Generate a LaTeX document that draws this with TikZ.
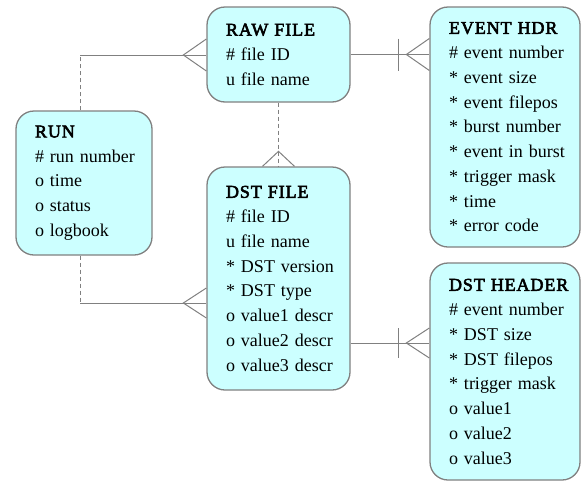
\documentclass[tikz,border=0pt]{standalone}
\usepackage{fontspec}
\setmainfont{Liberation Serif}
\newfontfamily\erfont{Liberation Serif}
\newfontfamily\erbold{Liberation Serif}[FakeBold=3, LetterSpace=5]
\newcommand\ertitle[1]{{\erbold #1}}
\usetikzlibrary{calc}
\definecolor{boxfill}{HTML}{CCFFFF}
\definecolor{edgegray}{HTML}{808080}
\begin{document}
\begin{tikzpicture}[x=1pt,y=-1pt,
  entity/.style={draw=edgegray, line width=1.3pt, fill=boxfill, rounded corners=18pt,
    align=left, anchor=center, inner xsep=19pt, inner ysep=0pt,
    font=\erfont\fontsize{18}{24.75}\selectfont,
    execute at begin node={\hyphenpenalty=10000 \exhyphenpenalty=10000 \hbadness=10000 \hfuzz=100pt}},
  conn/.style={draw=edgegray, line width=1pt},
  opt/.style={draw=edgegray, line width=1pt, dash pattern=on 4pt off 3pt}]
\useasboundingbox (0,0) rectangle (581,485);

\node[entity, text width=105pt, minimum height=95pt] (raw) at (278.5,54.5)
  {\ertitle{RAW~FILE}\\\#~file~ID\\u~file~name};
\node[entity, text width=112pt, minimum height=240pt] (event) at (505,127)
  {\ertitle{EVENT~HDR}\\\#~event~number\\{}*~event~size\\{}*~event~filepos\\{}*~burst~number\\{}*~event~in~burst\\{}*~trigger~mask\\{}*~time\\{}*~error~code};
\node[entity, text width=98pt, minimum height=144pt] (run) at (84,183)
  {\ertitle{RUN}\\\#~run~number\\o~time\\o~status\\o~logbook};
\node[entity, text width=105pt, minimum height=223pt] (dstfile) at (278.5,278.5)
  {\ertitle{DST~FILE}\\\#~file~ID\\u~file~name\\{}*~DST~version\\{}*~DST~type\\o~value1~descr\\o~value2~descr\\o~value3~descr};
\node[entity, text width=112pt, minimum height=217pt] (dsthdr) at (505,371.5)
  {\ertitle{DST~HEADER}\\\#~event~number\\{}*~DST~size\\{}*~DST~filepos\\{}*~trigger~mask\\o~value1\\o~value2\\o~value3};

% RUN -- RAW FILE
\coordinate (r1) at (80,55);
\coordinate (a1) at (raw.west |- r1);
\draw[opt] (run.north -| r1) -- (r1);
\draw[conn] (r1) -- (a1);
\draw[conn] ($(a1)+(0,-16)$) -- ($(a1)+(-23,0)$) -- ($(a1)+(0,16)$);

% RAW FILE -- DST FILE
\draw[opt] (raw.south) -- (dstfile.north);
\draw[conn] ($(dstfile.north)+(-16,0)$) -- ($(dstfile.north)+(0,-15)$) -- ($(dstfile.north)+(16,0)$);

% RUN -- DST FILE
\coordinate (r2) at (80,303);
\coordinate (a2) at (dstfile.west |- r2);
\draw[opt] (run.south -| r2) -- (r2);
\draw[conn] (r2) -- (a2);
\draw[conn] ($(a2)+(0,-15)$) -- ($(a2)+(-23,0)$) -- ($(a2)+(0,15)$);

% RAW FILE -- EVENT HDR
\coordinate (a3) at (event.west |- raw.east);
\draw[conn] (raw.east) -- (a3);
\draw[conn] ($(a3)+(0,-16)$) -- ($(a3)+(-23,0)$) -- ($(a3)+(0,16)$);
\draw[conn] ($(a3)+(-31,-16)$) -- ($(a3)+(-31,16)$);

% DST FILE -- DST HEADER
\coordinate (h5) at (0,343);
\coordinate (a4) at (dsthdr.west |- h5);
\draw[conn] (dstfile.east |- h5) -- (a4);
\draw[conn] ($(a4)+(0,-15)$) -- ($(a4)+(-23,0)$) -- ($(a4)+(0,15)$);
\draw[conn] ($(a4)+(-31,-15)$) -- ($(a4)+(-31,15)$);
\end{tikzpicture}
\end{document}
